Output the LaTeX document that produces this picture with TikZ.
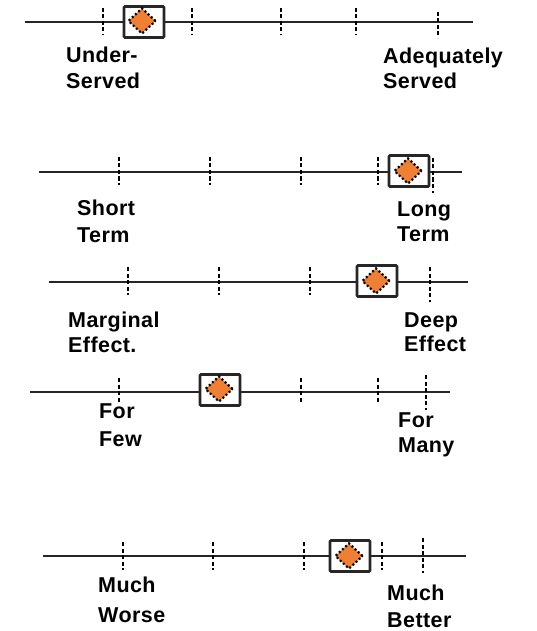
\documentclass[tikz,border=0pt]{standalone}
\usepackage{fontspec}
\newfontfamily\lblfont[LetterSpace=2]{Liberation Sans}
\usetikzlibrary{shapes.geometric}
\definecolor{marker}{HTML}{EE7F33}

\begin{document}
\begin{tikzpicture}[x=1pt, y=-1pt,
  axis/.style = {draw=black!85, line width=1.2pt},
  tick/.style = {draw=black, line width=1.1pt, dash pattern=on 4pt off 2.5pt},
  box/.style = {draw=black!85, fill=white, line width=2.6pt, rounded corners=1pt,
    minimum width=40, minimum height=31, inner sep=0},
  gem/.style = {diamond, fill=marker, draw=black, line width=2.2pt,
    dash pattern=on 2pt off 2.3pt, minimum width=28, minimum height=26, inner sep=0},
  lbl/.style = {font=\lblfont\bfseries\fontsize{21.5}{26}\selectfont, align=left,
    anchor=north west, inner sep=0}]
\useasboundingbox (0,0) rectangle (536,631);

% row 1
\coordinate (a1) at (25,22); \coordinate (b1) at (473,22);
\draw[axis] (a1) -- (b1);
\foreach \x in {103,192,281,356} \draw[tick] (\x,8) -- (\x,35);
\draw[tick] (438,12) -- (438,38);
\node[box] (box1) at (144,22) {};
\node[gem] (gem1) at (142,21) {};
\node[lbl] (lo1) at (66,47) {Under-\\Served};
\node[lbl] (hi1) at (383,48) {Adequately\\[-1pt]Served};

% row 2
\coordinate (a2) at (39,172); \coordinate (b2) at (462,172);
\draw[axis] (a2) -- (b2);
\foreach \x in {119,210,301,378} \draw[tick] (\x,157) -- (\x,185);
\draw[tick] (433,158) -- (433,193);
\node[box] (box2) at (409,171) {};
\node[gem] (gem2) at (408,171) {};
\node[lbl] (lo2) at (77,200) {Short\\[1pt]Term};
\node[lbl] (hi2) at (397,202) {Long\\[-1pt]Term};

% row 3
\coordinate (a3) at (49,282); \coordinate (b3) at (468,282);
\draw[axis] (a3) -- (b3);
\foreach \x in {128,219,310} \draw[tick] (\x,267) -- (\x,295);
\draw[tick] (430,267) -- (430,302);
\node[box] (box3) at (377,281) {};
\node[gem] (gem3) at (376,281) {};
\node[lbl] (lo3) at (68,312) {Marginal\\[-1pt]Effect.};
\node[lbl] (hi3) at (404,313) {Deep\\[-2pt]Effect};

% row 4
\coordinate (a4) at (30,392); \coordinate (b4) at (450,392);
\draw[axis] (a4) -- (b4);
\foreach \x in {119,210,301,378} \draw[tick] (\x,378) -- (\x,403);
\draw[tick] (426,375) -- (426,410);
\node[box] (box4) at (220,390) {};
\node[gem] (gem4) at (219,389) {};
\node[lbl] (lo4) at (99,404) {For\\[2pt]Few};
\node[lbl] (hi4) at (398,413) {For\\[-1pt]Many};

% row 5
\coordinate (a5) at (43,556); \coordinate (b5) at (466,556);
\draw[axis] (a5) -- (b5);
\foreach \x in {123,213,304,382} \draw[tick] (\x,542) -- (\x,570);
\draw[tick] (423,538) -- (423,573);
\node[box] (box5) at (350,556) {};
\node[gem] (gem5) at (349,556) {};
\node[lbl] (lo5) at (98,577) {Much\\[4pt]Worse};
\node[lbl] (hi5) at (387,585) {Much\\[1pt]Better};
\end{tikzpicture}
\end{document}
